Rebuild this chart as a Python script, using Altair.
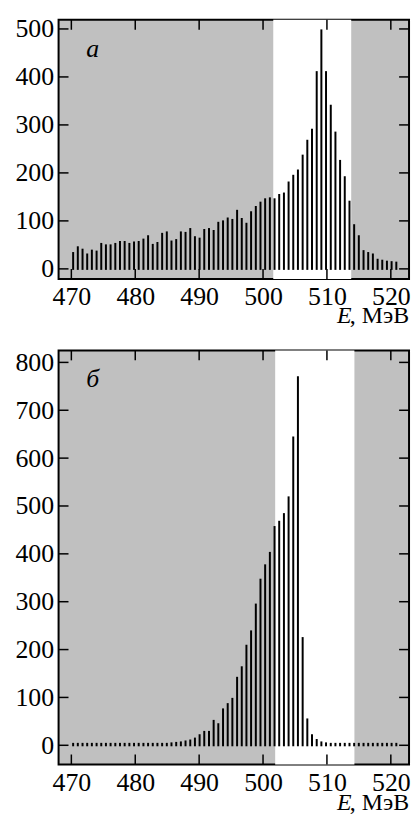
import altair as alt
import pandas as pd

# ---- data ----
energy = [470.28, 471.01, 471.75, 472.48, 473.21, 473.95, 474.68, 475.41, 476.14, 476.88,
          477.61, 478.34, 479.08, 479.81, 480.54, 481.28, 482.01, 482.74, 483.47, 484.21,
          484.94, 485.67, 486.41, 487.14, 487.87, 488.61, 489.34, 490.07, 490.80, 491.54,
          492.27, 493.00, 493.74, 494.47, 495.20, 495.94, 496.67, 497.40, 498.13, 498.87,
          499.60, 500.33, 501.07, 501.80, 502.53, 503.27, 504.00, 504.73, 505.46, 506.20,
          506.93, 507.66, 508.40, 509.13, 509.86, 510.60, 511.33, 512.06, 512.79, 513.53,
          514.26, 514.99, 515.73, 516.46, 517.19, 517.93, 518.66, 519.39, 520.12, 520.86]

counts_a = [33, 45, 40, 30, 38, 36, 52, 49, 49, 52, 56, 56, 52, 55, 56, 61, 68, 50, 54, 73,
            76, 57, 60, 76, 75, 83, 66, 63, 81, 83, 79, 96, 99, 105, 102, 121, 104, 94, 118, 129,
            138, 145, 147, 145, 154, 157, 180, 194, 205, 236, 267, 290, 410, 497, 410, 340, 284, 225, 191, 140,
            91, 68, 37, 33, 30, 19, 17, 15, 14, 13]

counts_b = [3, 3, 3, 3, 3, 3, 3, 3, 3, 3, 3, 3, 3, 3, 3, 3, 3, 3, 3, 3,
            3, 4, 5, 6, 8, 10, 14, 21, 28, 28, 51, 44, 75, 86, 97, 141, 163, 208, 238, 294,
            346, 376, 402, 456, 467, 483, 518, 643, 769, 224, 54, 21, 11, 6, 4, 3, 3, 3, 3, 3,
            3, 3, 3, 3, 3, 3, 3, 3, 3, 3]

x_ticks = [470, 480, 490, 500, 510, 520]
y_ticks_a = [0, 100, 200, 300, 400, 500]
y_ticks_b = [0, 100, 200, 300, 400, 500, 600, 700, 800]
window_a = [501.6, 513.8]
window_b = [501.9, 514.3]
letters = ["а", "б"]
title_var = "E"
title_unit = ", МэВ"

x_domain = [468.0, 522.85]
y_domain_a = [-21, 519]
y_domain_b = [-40, 825]

FONT = "Liberation Serif"
W = 353
TICK = 10


def panel(counts, yticks, window, ydom, H, letter, title_dy):
    xs = alt.Scale(domain=x_domain, nice=False, zero=False)
    ys = alt.Scale(domain=ydom, nice=False, zero=False)
    xa = alt.Axis(values=x_ticks, title=None, format="d")
    ya = alt.Axis(values=yticks, title=None, format="d")

    win = alt.Chart(pd.DataFrame({"a": [window[0]], "b": [window[1]]})).mark_rect(
        color="white").encode(
        x=alt.X("a:Q", scale=xs, axis=xa), x2="b:Q",
        y=alt.value(0), y2=alt.value(H))

    bars = alt.Chart(pd.DataFrame({"E": energy, "N": counts})).mark_rule(
        color="black", strokeWidth=2, strokeCap="square").encode(
        x=alt.X("E:Q", scale=xs, axis=xa),
        y=alt.Y("N:Q", scale=ys, axis=ya),
        y2=alt.datum(0))

    ydf = pd.DataFrame({"v": yticks})
    xdf = pd.DataFrame({"v": x_ticks})
    tick_style = dict(color="black", strokeWidth=1.5)
    left = alt.Chart(ydf).mark_rule(**tick_style).encode(
        y=alt.Y("v:Q", scale=ys, axis=ya), x=alt.value(0), x2=alt.value(TICK))
    right = alt.Chart(ydf).mark_rule(**tick_style).encode(
        y=alt.Y("v:Q", scale=ys, axis=ya), x=alt.value(W - TICK), x2=alt.value(W))
    top = alt.Chart(xdf).mark_rule(**tick_style).encode(
        x=alt.X("v:Q", scale=xs, axis=xa), y=alt.value(0), y2=alt.value(TICK))
    bottom = alt.Chart(xdf).mark_rule(**tick_style).encode(
        x=alt.X("v:Q", scale=xs, axis=xa), y=alt.value(H - TICK), y2=alt.value(H))

    lab = alt.Chart(pd.DataFrame({"t": [letter]})).mark_text(
        font=FONT, fontSize=26, fontStyle="italic", align="left", baseline="alphabetic",
        color="black").encode(text="t:N", x=alt.value(28), y=alt.value(37))

    tdf = pd.DataFrame({"v": [title_var], "u": [title_unit]})
    t_unit = alt.Chart(tdf).mark_text(
        font=FONT, fontSize=24, align="right", baseline="alphabetic", color="black").encode(
        text="u:N", x=alt.value(W), y=alt.value(H + title_dy))
    t_var = alt.Chart(tdf).mark_text(
        font=FONT, fontSize=24, fontStyle="italic", align="right", baseline="alphabetic",
        color="black").encode(
        text="v:N", x=alt.value(W - 58), y=alt.value(H + title_dy))

    return alt.layer(win, bars, left, right, top, bottom, lab, t_unit, t_var).properties(
        width=W, height=H)


pa = panel(counts_a, y_ticks_a, window_a, y_domain_a, 261, letters[0], 44)
pb = panel(counts_b, y_ticks_b, window_b, y_domain_b, 417, letters[1], 46)

chart = alt.vconcat(pa, pb, spacing=20).properties(
    padding={"left": 14, "top": 12, "right": 2, "bottom": 2}
).configure_view(
    stroke="black", strokeWidth=2, fill="#c0c0c0"
).configure_axis(
    labelFont=FONT, labelFontSize=26, labelColor="black",
    domain=False, ticks=False, grid=False
).configure_axisX(labelPadding=5).configure_axisY(labelPadding=5)

chart.save("out.html", embed_options={"renderer": "svg", "actions": False})
